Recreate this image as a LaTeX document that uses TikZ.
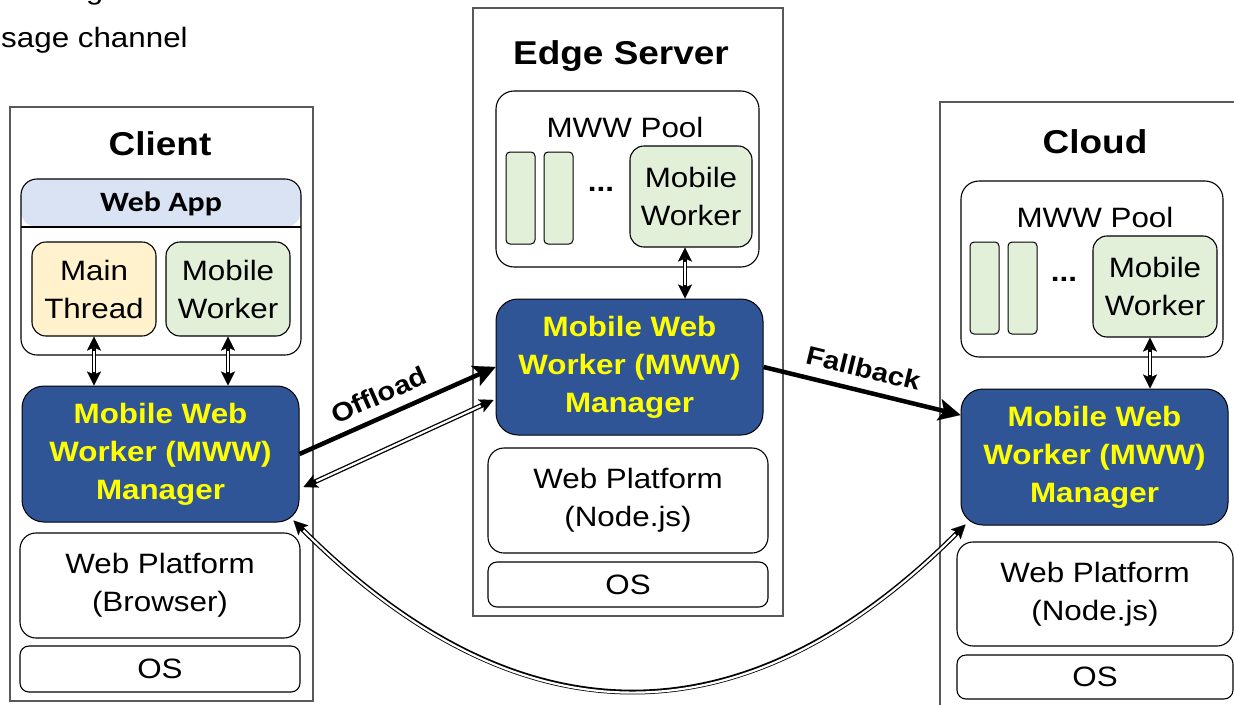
\documentclass[tikz,border=0pt]{standalone}
\usepackage{fontspec}
\setmainfont{Liberation Sans}[FakeStretch=1.12]
\newfontfamily\appfont{Carlito}[FakeStretch=1.14]
\usetikzlibrary{arrows.meta}
\definecolor{mgrblue}{HTML}{2F5597}
\definecolor{hdrblue}{HTML}{DAE3F3}
\definecolor{thryel}{HTML}{FFF2CC}
\definecolor{wkgreen}{HTML}{E2F0D9}
\definecolor{framegray}{HTML}{595959}
\definecolor{mgrtext}{HTML}{FFFF00}
\newcommand\myfs[2]{\fontsize{#1}{#2}\selectfont}
\begin{document}
\begin{tikzpicture}[x=1pt,y=-1pt,
  outer/.style={draw=framegray, line width=1.5pt, fill=white, inner sep=0pt},
  layer/.style={draw=black, line width=1.1pt, rounded corners=16pt, fill=white, align=center, inner sep=0pt, font=\myfs{28}{38}},
  osbox/.style={layer, rounded corners=9pt},
  pool/.style={draw=black, line width=1.1pt, rounded corners=18pt, fill=white, inner sep=0pt},
  inbox/.style={draw=black, line width=1.1pt, rounded corners=14pt, align=center, inner sep=0pt, font=\myfs{28}{38}},
  slot/.style={draw=black, line width=1pt, rounded corners=4pt, fill=wkgreen, minimum width=29pt, minimum height=92pt, inner sep=0pt},
  mgr/.style={draw=black, line width=1pt, rounded corners=22pt, fill=mgrblue, text=mgrtext, align=center, inner sep=0pt, font=\bfseries\myfs{28}{38}},
  title/.style={font=\bfseries\myfs{33}{38}, inner sep=0pt, anchor=base},
  plain/.style={font=\myfs{28}{38}, inner sep=0pt, anchor=base},
  dotsty/.style={font=\bfseries\myfs{28}{30}, inner sep=0pt, anchor=base},
  lbl/.style={font=\bfseries\myfs{26}{30}, inner sep=0pt},
  big/.style={line width=4.5pt, -{Stealth[length=22pt,width=22pt,inset=5pt,line width=0.1pt]}},
  dbl/.style={line width=4.8pt,
    {Stealth[length=14pt,width=14pt,inset=3pt,line width=0.1pt]}-{Stealth[length=14pt,width=14pt,inset=3pt,line width=0.1pt]},
    postaction={draw=white, line width=2.2pt, arrows=-, shorten >=14pt, shorten <=14pt}}
]
\useasboundingbox (0,0) rectangle (1234,704);
\clip (0,0) rectangle (1234,704);

% partial caption text at top left
\node[anchor=base west, inner sep=0pt, font=\myfs{27.5}{30}] (gdesc) at (86,0) {g};
\node[anchor=base west, inner sep=0pt, font=\myfs{28}{30}] (chan) at (1,47) {sage channel};

% ---------------- Client ----------------
\node[outer, minimum width=303pt, minimum height=594pt] (client) at (161.5,404) {};
\node[title] (clientT) at (160,155) {Client};
\node[draw=black, line width=1.1pt, rounded corners=16pt, fill=white, inner sep=0pt,
      minimum width=280pt, minimum height=176pt,
      path picture={\fill[hdrblue] (path picture bounding box.north west) rectangle ([yshift=-48pt]path picture bounding box.north east);
        \draw[line width=1.1pt] ([yshift=-48pt]path picture bounding box.north west) -- ([yshift=-48pt]path picture bounding box.north east);}]
      (webapp) at (161,267) {};
\node[font=\appfont\bfseries\myfs{28}{30}, inner sep=0pt] (webappT) at (161,204) {Web App};
\node[inbox, fill=thryel, minimum width=124pt, minimum height=94pt] (mainth) at (94,289) {Main\\Thread};
\node[inbox, fill=wkgreen, minimum width=124pt, minimum height=94pt] (mw1) at (228,289) {Mobile\\Worker};
\node[mgr, minimum width=277pt, minimum height=136pt] (mgr1) at (160.5,454) {Mobile Web\\Worker (MWW)\\Manager};
\node[layer, minimum width=280pt, minimum height=105pt] (wp1) at (160,585.5) {Web Platform\\(Browser)};
\node[osbox, minimum width=280pt, minimum height=46pt] (os1) at (160,669) {OS};

% ---------------- Edge Server ----------------
\node[outer, minimum width=310pt, minimum height=608pt] (edge) at (628,312) {};
\node[title] (edgeT) at (621,64) {Edge Server};
\node[pool, minimum width=263pt, minimum height=176pt] (pool2) at (627.5,179) {};
\node[plain] (pool2T) at (625,137) {MWW Pool};
\node[slot] (s2a) at (520.5,198) {};
\node[slot] (s2b) at (558.5,198) {};
\node[dotsty] (d2) at (601,191) {...};
\node[inbox, fill=wkgreen, minimum width=122pt, minimum height=101pt] (mw2) at (691,196.5) {Mobile\\Worker};
\node[mgr, minimum width=267pt, minimum height=136pt] (mgr2) at (629.5,367) {Mobile Web\\Worker (MWW)\\Manager};
\node[layer, minimum width=280pt, minimum height=105pt] (wp2) at (628,500.5) {Web Platform\\(Node.js)};
\node[osbox, minimum width=280pt, minimum height=45pt] (os2) at (628,584.5) {OS};

% ---------------- Cloud ----------------
\node[outer, minimum width=330pt, minimum height=640pt] (cloud) at (1105,422) {};
\node[title] (cloudT) at (1095,153) {Cloud};
\node[pool, minimum width=262pt, minimum height=176pt] (pool3) at (1092,269) {};
\node[plain] (pool3T) at (1095,227) {MWW Pool};
\node[slot] (s3a) at (984.5,288) {};
\node[slot] (s3b) at (1022.5,288) {};
\node[dotsty] (d3) at (1064,281) {...};
\node[inbox, fill=wkgreen, minimum width=124pt, minimum height=101pt] (mw3) at (1155,286.5) {Mobile\\Worker};
\node[mgr, minimum width=267pt, minimum height=136pt] (mgr3) at (1094.5,457) {Mobile Web\\Worker (MWW)\\Manager};
\node[layer, minimum width=276pt, minimum height=104pt] (wp3) at (1095,594) {Web Platform\\(Node.js)};
\node[osbox, minimum width=276pt, minimum height=44pt] (os3) at (1095,677) {OS};

% ---------------- Connectors ----------------
\draw[dbl] (mainth.south) -- (mainth.south |- mgr1.north);
\draw[dbl] (mw1.south) -- (mw1.south |- mgr1.north);
\draw[dbl] ([xshift=-6pt]mw2.south) -- ([xshift=-6pt]mw2.south |- mgr2.north);
\draw[dbl] ([xshift=-5pt]mw3.south) -- ([xshift=-5pt]mw3.south |- mgr3.north);

\draw[big] (mgr1.east) -- node[lbl, pos=0.45, sloped, above=10pt] (offT) {Offload} (mgr2.west);
\draw[dbl] ([xshift=-2pt,yshift=-33pt]mgr2.west) -- ([xshift=4pt,yshift=-33pt]mgr1.east);
\draw[big] (mgr2.east) -- node[lbl, pos=0.48, sloped, above=11pt] (fbT) {Fallback} ([yshift=42pt]mgr3.west);
\draw[dbl] ([xshift=-6pt,yshift=2pt]mgr1.south east) .. controls (517,744) and (742,748) .. ([xshift=5pt,yshift=1pt]mgr3.south west);
\end{tikzpicture}
\end{document}
